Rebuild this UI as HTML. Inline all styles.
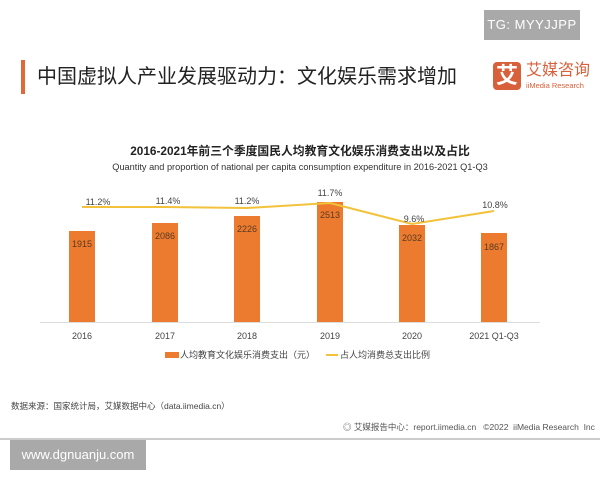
<!DOCTYPE html>
<html><head><meta charset="utf-8"><style>
body{margin:0;width:600px;height:480px;background:#fff;overflow:hidden;position:relative;font-family:"Liberation Sans","Noto Sans CJK SC",sans-serif}
.a{position:absolute;white-space:nowrap}
</style></head><body>
<div class="a" style="left:484px;top:10px;width:96px;height:30px;background:#a9a9a9;color:#fff;font-size:13px;line-height:30px;text-align:center;letter-spacing:0.5px">TG: MYYJJPP</div>
<div class="a" style="left:21px;top:60px;width:4px;height:34px;background:#e2673a"></div>
<div class="a" style="left:37px;top:63px;font-size:20px;color:#222;line-height:28px">中国虚拟人产业发展驱动力：文化娱乐需求增加</div>
<div class="a" style="left:493px;top:62px;width:28px;height:28px;background:#d8603a;border-radius:4px;color:#fff;font-size:22px;line-height:28px;text-align:center;font-weight:bold">艾</div>
<div class="a" style="left:526px;top:60px;font-size:16px;color:#d8603a;line-height:22px">艾媒咨询</div>
<div class="a" style="left:526px;top:81px;font-size:7.5px;color:#d8603a">iiMedia Research</div>
<div class="a" style="left:0;width:600px;top:142px;text-align:center;font-size:11.8px;font-weight:bold;color:#222">2016-2021年前三个季度国民人均教育文化娱乐消费支出以及占比</div>
<div class="a" style="left:0;width:600px;top:162px;text-align:center;font-size:9.2px;color:#333">Quantity and proportion of national per capita consumption expenditure in 2016-2021 Q1-Q3</div>
<svg class="a" style="left:0;top:0" width="600" height="480" font-family="Liberation Sans, sans-serif">
<line x1="40" y1="322.5" x2="540" y2="322.5" stroke="#ddd"/>
<g fill="#ec7b2f">
<rect x="69" y="231" width="26" height="91"/><rect x="152" y="223" width="26" height="99"/><rect x="234" y="216" width="26" height="106"/><rect x="317" y="202" width="26" height="120"/><rect x="399" y="225" width="26" height="97"/><rect x="481" y="233" width="26" height="89"/>
</g>
<polyline points="82,207 165,207 247,208 330,203 412,224 494,211" fill="none" stroke="#f2c23a" stroke-width="2"/>
<g font-size="9" fill="#5a3a20" text-anchor="middle">
<text x="82" y="247">1915</text><text x="165" y="239">2086</text><text x="247" y="232">2226</text><text x="330" y="218">2513</text><text x="412" y="241">2032</text><text x="494" y="250">1867</text>
</g>
<g font-size="9" fill="#444" text-anchor="middle">
<text x="98" y="205">11.2%</text><text x="168" y="204">11.4%</text><text x="247" y="204">11.2%</text><text x="330" y="196">11.7%</text><text x="414" y="222">9.6%</text><text x="495" y="208">10.8%</text>
</g>
<g font-size="9" fill="#444" text-anchor="middle">
<text x="82" y="339">2016</text><text x="165" y="339">2017</text><text x="247" y="339">2018</text><text x="330" y="339">2019</text><text x="412" y="339">2020</text><text x="494" y="339">2021 Q1-Q3</text>
</g>
<rect x="165" y="352" width="14" height="6" fill="#ec7b2f"/>
<line x1="326" y1="355" x2="338" y2="355" stroke="#f2c23a" stroke-width="2"/>
<line x1="0" y1="439" x2="600" y2="439" stroke="#999"/>
</svg>
<div class="a" style="left:180px;top:348px;font-size:9px;color:#444">人均教育文化娱乐消费支出（元）</div>
<div class="a" style="left:340px;top:348px;font-size:9px;color:#444">占人均消费总支出比例</div>
<div class="a" style="left:11px;top:400px;font-size:8.5px;color:#444">数据来源：国家统计局，艾媒数据中心（data.iimedia.cn）</div>
<div class="a" style="left:343px;top:421px;font-size:8.5px;color:#555">◎ 艾媒报告中心：report.iimedia.cn &nbsp; ©2022 &nbsp;iiMedia Research &nbsp;Inc</div>
<div class="a" style="left:10px;top:440px;width:136px;height:30px;background:#a9a9a9;color:#fff;font-size:13px;line-height:30px;text-align:center">www.dgnuanju.com</div>
</body></html>
